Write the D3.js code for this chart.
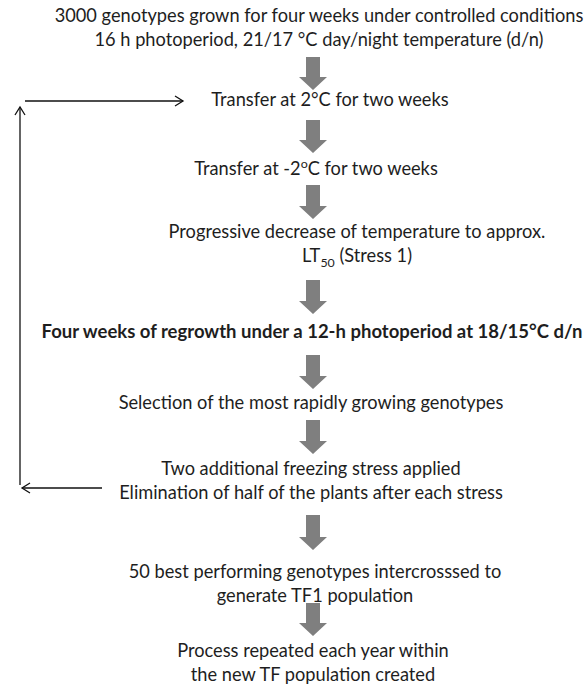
<!DOCTYPE html>
<html>
<head>
<meta charset="utf-8">
<script src="https://cdn.jsdelivr.net/npm/d3@7"></script>
<style>
	body { margin: 0; background: #fff; }
</style>
</head>
<body>
<div class="chart"></div>
<script>
// flowchart steps, one array of lines per box. ^{..} = superscript, _{..} = subscript
let steps = [
	['3000 genotypes grown for four weeks under controlled conditions',
	 '16 h photoperiod, 21/17 °C day/night temperature (d/n)'],
	['Transfer at 2°C for two weeks'],
	['Transfer at -2^{o}C for two weeks'],
	['Progressive decrease of temperature to approx.',
	 'LT_{50} (Stress 1)'],
	['Four weeks of regrowth under a 12-h photoperiod at 18/15°C d/n'],
	['Selection of the most rapidly growing genotypes'],
	['Two additional freezing stress applied',
	 'Elimination of half of the plants after each stress'],
	['50 best performing genotypes intercrosssed to',
	 'generate TF1 population'],
	['Process repeated each year within',
	 'the new TF population created']
];
let boldSteps = [4];
// loop back: from step 6 to step 1
let loopFrom = 6, loopTo = 1;

let width = 584, height = 685;
let font = "Lato, 'Open Sans', sans-serif";

// layout
let textX = [319, 330, 316, 357, 312, 311, 311, 315, 313];
let textY = [22, 106, 175, 238, 338, 409, 475, 578, 657];
let lineGap = 24;
let arrowX = 313;
let arrowY = [[57, 90], [120, 153], [185, 219], [280, 314], [355, 389], [420, 454], [515, 550], [603, 636]];
let shaft = 7, head = 14, headH = 13;

let svg = d3.select('.chart')
	.append('svg')
	.attr('width', width)
	.attr('height', height);

// fit font size so the first line has the reference width
function fitSize(str, target, weight) {
	let t = svg.append('text')
		.style('font-family', font)
		.style('font-size', '16px')
		.style('font-weight', weight)
		.text(str);
	let w = t.node().getComputedTextLength();
	t.remove();
	return 16 * target / w;
}
let fs = fitSize(steps[0][0], 529, 'normal');
let fsBold = fitSize(steps[4][0], 541, 'bold');

function parts(str) {
	return str.split(/(\^\{[^}]*\}|_\{[^}]*\})/).filter(s => s.length).map(s => {
		if (s.startsWith('^{')) return {t: s.slice(2, -1), k: 'sup'};
		if (s.startsWith('_{')) return {t: s.slice(2, -1), k: 'sub'};
		return {t: s, k: 'n'};
	});
}

steps.forEach((lines, i) => {
	let bold = boldSteps.includes(i);
	let size = bold ? fsBold : fs;
	lines.forEach((line, j) => {
		let text = svg.append('text')
			.attr('x', textX[i])
			.attr('y', textY[i] + j * lineGap)
			.attr('text-anchor', 'middle')
			.style('font-family', font)
			.style('font-size', size + 'px')
			.style('font-weight', bold ? 'bold' : 'normal')
			.style('fill', '#1e1e1e');
		let shift = 0;
		parts(line).forEach(p => {
			let target = p.k == 'sup' ? -size * 0.4 : p.k == 'sub' ? size * 0.25 : 0;
			text.append('tspan')
				.attr('dy', target - shift)
				.style('font-size', p.k == 'n' ? size + 'px' : (size * 0.68) + 'px')
				.text(p.t);
			shift = target;
		});
	});
});

// block arrows
let line = d3.line();
arrowY.forEach(a => {
	let top = a[0], bot = a[1], neck = bot - headH;
	svg.append('path')
		.attr('d', line([
			[arrowX - shaft, top], [arrowX + shaft, top], [arrowX + shaft, neck],
			[arrowX + head, neck], [arrowX, bot], [arrowX - head, neck],
			[arrowX - shaft, neck]
		]) + 'Z')
		.style('fill', '#7f7f7f');
});

// feedback loop
let loopX = 20;
let topY = textY[loopTo] - 5, botY = textY[loopFrom] + 13;
let chev = 8;
function thin(pts) {
	svg.append('path')
		.attr('d', line(pts))
		.style('fill', 'none')
		.style('stroke', '#111')
		.style('stroke-width', 1.3);
}
// vertical with up arrow, tip a little below the top line
let tip = topY + 6;
thin([[loopX, botY - 3], [loopX, tip]]);
thin([[loopX - 5, tip + chev], [loopX, tip], [loopX + 5, tip + chev]]);
// top horizontal to the right
thin([[25, topY], [183, topY]]);
thin([[183 - chev, topY - 5], [183, topY], [183 - chev, topY + 5]]);
// bottom horizontal, arrow to the left
thin([[102, botY], [22, botY]]);
thin([[22 + chev, botY - 5], [22, botY], [22 + chev, botY + 5]]);
</script>
</body>
</html>
